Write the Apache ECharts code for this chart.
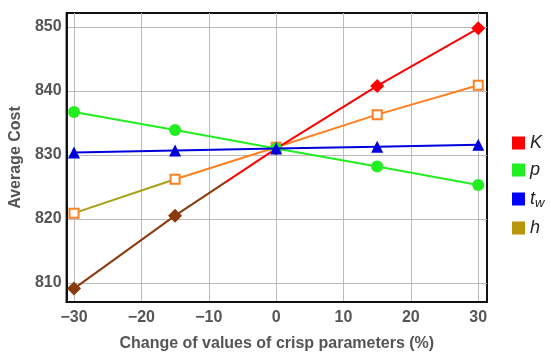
<!DOCTYPE html>
<html><head><meta charset="utf-8">
<script src="https://cdn.jsdelivr.net/npm/echarts@6/dist/echarts.min.js"></script>
<style>html,body{margin:0;padding:0;background:#fff}#c{width:550px;height:361px}</style>
</head><body><div id="c"></div>
<script>
var xs = [-30, -15, 0, 15, 30];
var K = [809.1, 820.5, 831.0, 840.8, 849.8];
var P = [836.7, 833.9, 831.0, 828.2, 825.3];
var TW = [830.4, 830.7, 831.0, 831.3, 831.6];
var H = [820.9, 826.2, 831.2, 836.3, 840.9];
var xTicks = [-30, -20, -10, 0, 10, 20, 30];
var yTicks = [810, 820, 830, 840, 850];

var RED = '#ff0000', BROWN = '#8a3a0c', ORANGE = '#ff8020', OLIVE = '#a8a010';
function split(c1, c2, f) {
  return new echarts.graphic.LinearGradient(0, 0, 1, 0, [
    {offset: 0, color: c1}, {offset: f, color: c1}, {offset: f, color: c2}, {offset: 1, color: c2}]);
}
function pts(v, colorFn) {
  return xs.map(function (x, i) {
    var d = {value: [x, v[i]]};
    if (colorFn) d.itemStyle = {color: colorFn(x)};
    return d;
  });
}

var chart = echarts.init(document.getElementById('c'));
var lab = {color: '#555', fontSize: 16, fontWeight: 'bold', fontFamily: 'Liberation Sans'};
chart.setOption({
  animation: false,
  grid: {left: 63, right: 63, top: 13, bottom: 59, show: true, borderColor: '#111', borderWidth: 2},
  xAxis: {
    type: 'value', min: -31.1, max: 31.3,
    name: 'Change of values of crisp parameters (%)', nameLocation: 'middle', nameGap: 34,
    nameTextStyle: {color: '#555', fontSize: 16, fontWeight: 'bold', fontFamily: 'Liberation Sans'},
    axisLine: {show: true, onZero: false, lineStyle: {color: '#111', width: 2}},
    axisTick: {show: false, customValues: xTicks},
    axisLabel: Object.assign({customValues: xTicks, margin: 8, formatter: function (v) { return String(v).replace('-', '\u2212'); }}, lab),
    splitLine: {show: true, lineStyle: {color: '#bbb', width: 1}}
  },
  yAxis: {
    type: 'value', min: 807.0, max: 852.2,
    name: 'Average Cost', nameLocation: 'middle', nameGap: 36,
    nameTextStyle: {color: '#555', fontSize: 16, fontWeight: 'bold', fontFamily: 'Liberation Sans'},
    axisLine: {show: true, onZero: false, lineStyle: {color: '#111', width: 2}},
    axisTick: {show: false, customValues: yTicks},
    axisLabel: Object.assign({customValues: yTicks, margin: 5}, lab),
    splitLine: {show: true, lineStyle: {color: '#bbb', width: 1}}
  },
  legend: {
    orient: 'vertical', left: 507, top: 129, itemWidth: 13, itemHeight: 13, itemGap: 9,
    icon: 'rect',
    data: [
      {name: 'K', itemStyle: {color: '#ff0000'}},
      {name: 'p', itemStyle: {color: '#22ee22'}},
      {name: 't_w', itemStyle: {color: '#0000ff'}},
      {name: 'h', itemStyle: {color: '#b8960c'}}
    ],
    formatter: function (n) { return n === 't_w' ? '{i|t}{s|w}' : '{i|' + n + '}'; },
    textStyle: {
      color: '#222', fontSize: 18, fontStyle: 'italic', fontFamily: 'Liberation Sans', lineHeight: 13,
      rich: {
        i: {fontSize: 18, fontStyle: 'italic', fontFamily: 'Liberation Sans', color: '#222', lineHeight: 13},
        s: {fontSize: 13, fontStyle: 'italic', fontFamily: 'Liberation Sans', color: '#222', lineHeight: 13, padding: [9, 0, 0, 0]}
      }
    }
  },
  series: [
    {name: 'h', type: 'line', data: pts(H), symbol: 'emptyRect', symbolSize: 9,
     lineStyle: {color: split(OLIVE, ORANGE, 0.25), width: 2}, itemStyle: {color: ORANGE, borderWidth: 1.5}, z: 2},
    {name: 'K', type: 'line', data: pts(K, function (x) { return x < 0 ? BROWN : RED; }), symbol: 'diamond', symbolSize: 14,
     lineStyle: {color: split(BROWN, RED, 0.375), width: 2}, itemStyle: {color: RED}, z: 3},
    {name: 'p', type: 'line', data: pts(P), symbol: 'circle', symbolSize: 12,
     lineStyle: {color: '#22ee22', width: 2}, itemStyle: {color: '#22ee22'}, z: 4},
    {name: 't_w', type: 'line', data: pts(TW), symbol: 'triangle', symbolSize: 12,
     lineStyle: {color: '#0000dd', width: 2}, itemStyle: {color: '#0000dd'}, z: 5}
  ]
});
</script></body></html>
